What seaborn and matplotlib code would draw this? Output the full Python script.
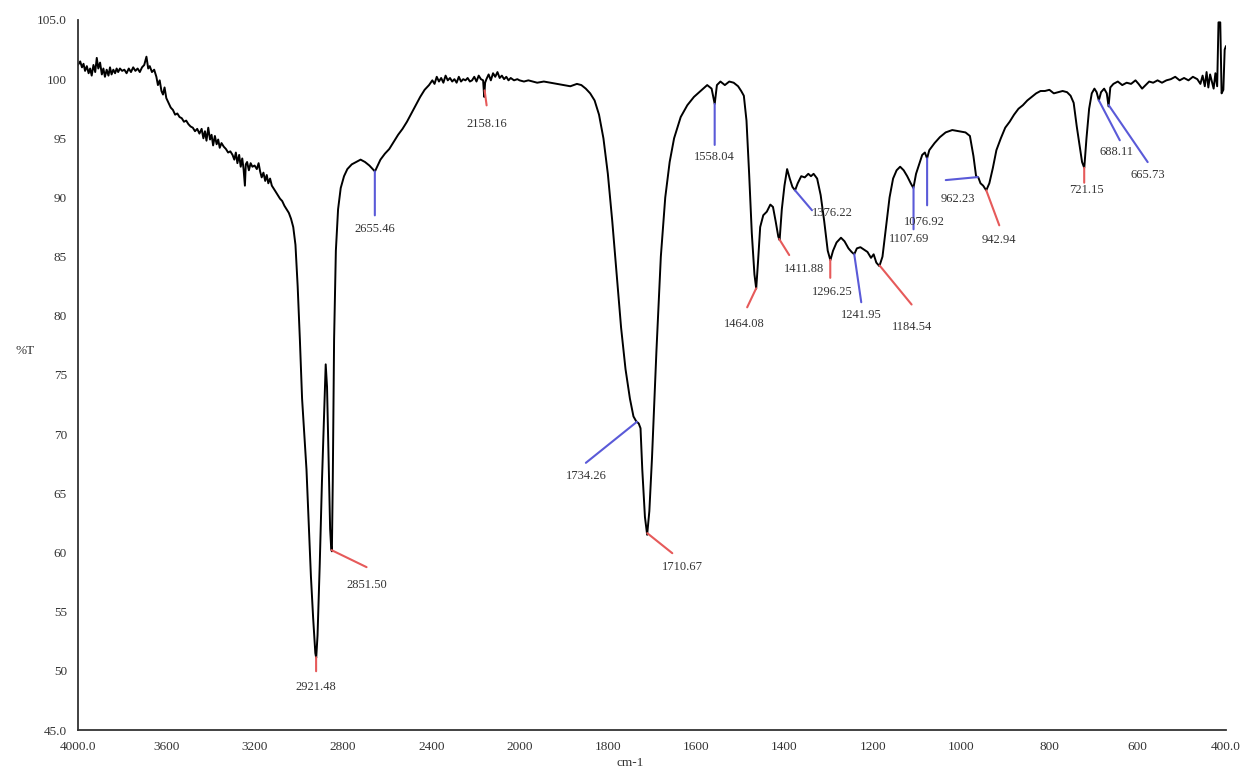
import numpy as np
import pandas as pd
import matplotlib
matplotlib.use("Agg")
import matplotlib.pyplot as plt
import seaborn as sns

# IR spectrum (wavenumber cm-1, %T)
wavenumber = [
    4000, 3990, 3982, 3975, 3968, 3960, 3952, 3945, 3938, 3930, 3922, 3915, 3908, 3900,
    3892, 3885, 3878, 3870, 3862, 3855, 3848, 3840, 3832, 3825, 3818, 3810, 3800, 3790,
    3780, 3770, 3760, 3750, 3740, 3730, 3720, 3710, 3700, 3690, 3682, 3675, 3665, 3655,
    3645, 3638, 3630, 3622, 3615, 3608, 3600, 3590, 3580, 3570, 3560, 3550, 3540, 3530,
    3520, 3510, 3500, 3490, 3480, 3470, 3460, 3450, 3440, 3432, 3425, 3418, 3410, 3402,
    3395, 3388, 3380, 3372, 3365, 3358, 3350, 3340, 3330, 3320, 3310, 3300, 3292, 3285,
    3278, 3270, 3263, 3256, 3250, 3244, 3240, 3234, 3226, 3218, 3210, 3200, 3190, 3182,
    3175, 3168, 3160, 3152, 3145, 3138, 3130, 3122, 3115, 3105, 3095, 3085, 3075, 3065,
    3055, 3045, 3035, 3025, 3015, 3005, 2995, 2985, 2975, 2965, 2955, 2945, 2935, 2925,
    2921, 2915, 2905, 2895, 2885, 2878, 2872, 2865, 2858, 2853, 2850, 2846, 2840, 2832,
    2822, 2810, 2795, 2780, 2760, 2740, 2720, 2700, 2680, 2665, 2655, 2645, 2630, 2610,
    2590, 2570, 2550, 2530, 2510, 2490, 2470, 2450, 2430, 2410, 2395, 2385, 2375, 2365,
    2355, 2345, 2335, 2325, 2315, 2305, 2295, 2285, 2275, 2265, 2255, 2245, 2235, 2225,
    2215, 2205, 2195, 2185, 2175, 2165, 2160, 2156, 2150, 2140, 2130, 2120, 2110, 2100,
    2090, 2080, 2070, 2060, 2050, 2040, 2025, 2010, 2000, 1990, 1980, 1970, 1960, 1945,
    1930, 1915, 1900, 1885, 1870, 1860, 1850, 1840, 1830, 1820, 1810, 1800, 1790, 1780,
    1770, 1760, 1750, 1742, 1736, 1730, 1726, 1722, 1716, 1711, 1706, 1700, 1690, 1680,
    1670, 1660, 1650, 1635, 1620, 1605, 1590, 1575, 1565, 1558, 1553, 1545, 1535, 1525,
    1515, 1505, 1498, 1492, 1486, 1480, 1474, 1468, 1464, 1460, 1455, 1448, 1440, 1432,
    1426, 1420, 1414, 1411, 1406, 1400, 1394, 1388, 1382, 1376, 1370, 1362, 1354, 1346,
    1340, 1334, 1326, 1318, 1310, 1302, 1296, 1290, 1282, 1272, 1264, 1255, 1248, 1242,
    1236, 1228, 1220, 1212, 1204, 1198, 1192, 1185, 1178, 1170, 1162, 1154, 1146, 1138,
    1130, 1122, 1114, 1108, 1102, 1095, 1088, 1082, 1077, 1072, 1060, 1048, 1035, 1020,
    1005, 990, 980, 972, 966, 961, 956, 950, 943, 936, 928, 920, 910, 900,
    890, 880, 870, 860, 850, 840, 830, 820, 810, 800, 790, 780, 770, 760,
    752, 745, 738, 732, 726, 721, 716, 710, 704, 698, 693, 688, 683, 676,
    670, 666, 662, 655, 645, 635, 625, 615, 605, 598, 590, 582, 574, 565,
    555, 545, 535, 525, 515, 505, 495, 485, 475, 465, 458, 453, 448, 444,
    440, 436, 432, 428, 424, 420, 417, 413, 410, 406, 403, 400,
]
transmittance = [
    101.2, 101.5, 101.0, 101.3, 100.7, 101.1, 100.5, 100.9, 100.3, 101.2, 100.6, 101.8, 100.9, 101.4,
    100.4, 100.9, 100.2, 100.8, 100.3, 101.0, 100.4, 100.8, 100.5, 100.9, 100.6, 100.9, 100.7, 100.8,
    100.5, 100.9, 100.6, 101.0, 100.7, 100.9, 100.6, 101.0, 101.2, 101.9, 100.9, 101.1, 100.6, 100.8,
    100.2, 99.5, 99.9, 99.0, 98.7, 99.3, 98.4, 98.0, 97.6, 97.4, 97.0, 97.1, 96.8, 96.7,
    96.4, 96.5, 96.2, 96.0, 95.9, 95.6, 95.8, 95.4, 95.8, 95.0, 95.6, 94.8, 95.9, 94.9,
    95.3, 94.4, 95.2, 94.5, 94.9, 94.2, 94.6, 94.3, 94.1, 93.8, 93.9, 93.6, 93.2, 93.8,
    92.9, 93.6, 92.6, 93.3, 92.4, 91.0, 92.8, 93.0, 92.3, 92.9, 92.6, 92.7, 92.4, 92.9,
    92.2, 91.7, 92.1, 91.4, 91.9, 91.2, 91.6, 91.0, 90.8, 90.5, 90.2, 89.9, 89.7, 89.3,
    89.0, 88.7, 88.2, 87.5, 86.0, 82.5, 78.0, 73.0, 70.0, 67.0, 62.5, 58.0, 54.5, 51.5,
    51.1, 53.0, 59.0, 66.0, 72.0, 75.9, 74.0, 68.0, 62.0, 60.3, 60.1, 66.0, 78.0, 85.5,
    89.0, 90.8, 91.8, 92.4, 92.8, 93.0, 93.2, 93.0, 92.7, 92.4, 92.2, 92.6, 93.2, 93.7,
    94.1, 94.7, 95.3, 95.8, 96.4, 97.1, 97.8, 98.5, 99.1, 99.5, 99.9, 99.6, 100.2, 99.8,
    100.1, 99.7, 100.3, 99.9, 100.1, 99.8, 100.0, 99.7, 100.2, 99.8, 100.0, 99.9, 100.1, 99.8,
    99.9, 100.2, 99.8, 100.3, 100.0, 99.9, 98.5, 99.7, 100.0, 100.4, 99.9, 100.5, 100.2, 100.6,
    100.1, 100.3, 100.0, 100.2, 99.9, 100.1, 99.9, 100.0, 99.9, 99.8, 99.9, 99.8, 99.7, 99.8,
    99.7, 99.6, 99.5, 99.4, 99.6, 99.5, 99.2, 98.8, 98.2, 97.0, 95.0, 92.0, 88.0, 83.5,
    79.0, 75.5, 73.0, 71.5, 71.1, 70.9, 70.5, 67.0, 63.0, 61.5, 63.5, 68.0, 77.0, 85.0,
    90.0, 93.0, 95.0, 96.8, 97.8, 98.5, 99.0, 99.5, 99.2, 97.9, 99.5, 99.8, 99.5, 99.8,
    99.7, 99.4, 99.0, 98.6, 96.5, 92.0, 87.0, 83.5, 82.3, 84.5, 87.5, 88.5, 88.8, 89.4,
    89.2, 88.0, 86.7, 86.4, 89.0, 91.0, 92.4, 91.6, 90.9, 90.6, 91.2, 91.8, 91.7, 92.0,
    91.8, 92.0, 91.6, 90.2, 88.0, 85.5, 84.7, 85.5, 86.2, 86.6, 86.3, 85.7, 85.4, 85.2,
    85.7, 85.8, 85.6, 85.4, 84.9, 85.2, 84.5, 84.2, 85.0, 87.5, 90.0, 91.6, 92.3, 92.6,
    92.3, 91.8, 91.2, 90.8, 92.0, 92.8, 93.6, 93.8, 93.3, 94.0, 94.6, 95.1, 95.5, 95.7,
    95.6, 95.5, 95.2, 93.5, 91.8, 91.7, 91.2, 91.0, 90.6, 91.2, 92.5, 94.0, 95.0, 95.9,
    96.4, 97.0, 97.5, 97.8, 98.2, 98.5, 98.8, 99.0, 99.0, 99.1, 98.8, 98.9, 99.0, 98.9,
    98.6, 98.0, 96.0, 94.5, 93.0, 92.5, 95.0, 97.5, 98.8, 99.2, 98.9, 98.2, 98.9, 99.2,
    98.8, 97.7, 99.3, 99.6, 99.8, 99.5, 99.7, 99.6, 99.9, 99.6, 99.2, 99.5, 99.8, 99.7,
    99.9, 99.7, 99.9, 100.0, 100.2, 99.9, 100.1, 99.9, 100.2, 100.0, 99.6, 100.3, 99.4, 100.6,
    99.3, 100.4, 99.8, 99.2, 100.5, 99.4, 104.8, 104.8, 98.8, 99.1, 102.5, 102.8,
]

# labelled peaks
peak_labels = ["2921.48", "2851.50", "2655.46", "2158.16", "1734.26", "1710.67", "1558.04",
               "1464.08", "1411.88", "1376.22", "1296.25", "1241.95", "1184.54", "1107.69",
               "1076.92", "962.23", "942.94", "721.15", "688.11", "665.73"]
peak_kind = ["r", "r", "b", "r", "b", "r", "b",
             "r", "r", "b", "r", "b", "r", "b",
             "b", "b", "r", "r", "b", "b"]

x_ticks = [4000, 3600, 3200, 2800, 2400, 2000, 1800, 1600, 1400, 1200, 1000, 800, 600, 400]
x_tick_labels = ["4000.0", "3600", "3200", "2800", "2400", "2000", "1800", "1600",
                 "1400", "1200", "1000", "800", "600", "400.0"]
y_ticks = [105, 100, 95, 90, 85, 80, 75, 70, 65, 60, 55, 50, 45]
y_tick_labels = ["105.0", "100", "95", "90", "85", "80", "75", "70", "65", "60", "55", "50", "45.0"]

# line end / text offsets in pixels (dx, dy with y downwards)
line_off = [(0, 14), (35, 17), (0, 44), (2, 15), (-51, 41), (25, 20), (0, 41),
            (-9, 19), (10, 16), (17, 20), (0, 18), (7, 48), (32, 39), (0, 42),
            (0, 47), (-32, 3), (13, 35), (0, 15), (21, 40), (39, 57)]
text_off = [(0, 30), (35, 35), (0, 58), (2, 34), (-51, 54), (35, 34), (0, 53),
            (-12, 36), (25, 30), (37, 23), (2, 32), (7, 61), (32, 61), (-4, 52),
            (-3, 64), (-20, 22), (13, 50), (2, 22), (18, 52), (39, 70)]
colors = {"r": "#e65a5a", "b": "#5a5ad8"}

sns.set_style("white")
plt.rcParams["font.family"] = ["Liberation Serif", "DejaVu Serif"]

df = pd.DataFrame({"wavenumber": wavenumber, "T": transmittance})


def fwd(x):
    x = np.asarray(x, dtype=float)
    return np.where(x > 2000, 2000 + (x - 2000) / 2.0, x)


def inv(u):
    u = np.asarray(u, dtype=float)
    return np.where(u > 2000, 2000 + (u - 2000) * 2.0, u)


fig = plt.figure(figsize=(12.5, 7.72), dpi=100)
ax = fig.add_axes([0.0624, 0.0544, 0.9184, 0.9197])
ax.set_xscale("function", functions=(fwd, inv))

sns.lineplot(data=df, x="wavenumber", y="T", sort=False, color="black", linewidth=1.4,
             estimator=None, ax=ax)

ax.set_xlim(4000, 400)
ax.set_ylim(45, 105)
ax.set_xticks(x_ticks)
ax.set_xticklabels(x_tick_labels)
ax.set_yticks(y_ticks)
ax.set_yticklabels(y_tick_labels)
ax.minorticks_off()

wn_sorted = np.array(wavenumber[::-1], dtype=float)
t_sorted = np.array(transmittance[::-1], dtype=float)
for lab, kind, lo, to in zip(peak_labels, peak_kind, line_off, text_off):
    wn = float(lab)
    t = np.interp(wn, wn_sorted, t_sorted)
    ax.annotate("", xy=(wn, t), xytext=(lo[0], -lo[1]), textcoords="offset pixels",
                arrowprops=dict(arrowstyle="-", color=colors[kind], lw=1.5,
                                shrinkA=0, shrinkB=0))
    ax.annotate(lab, xy=(wn, t), xytext=(to[0], -to[1]), textcoords="offset pixels",
                ha="center", va="center", fontsize=9, color="#333333")

sns.despine(ax=ax)
for s in ["left", "bottom"]:
    ax.spines[s].set_color("#333333")
    ax.spines[s].set_linewidth(1.3)
ax.tick_params(axis="both", labelsize=9.5, colors="#333333", length=4, width=1)
ax.tick_params(axis="x", direction="inout", pad=6)
ax.tick_params(axis="y", direction="out", pad=4)

ax.set_xlabel("cm-1", fontsize=9.5, color="#333333")
ax.xaxis.set_label_coords(0.481, -0.038)
ax.set_ylabel("%T", fontsize=9.5, color="#333333", rotation=0)
ax.yaxis.set_label_coords(-0.046, 0.525)

fig.savefig("out.png", dpi=100)
